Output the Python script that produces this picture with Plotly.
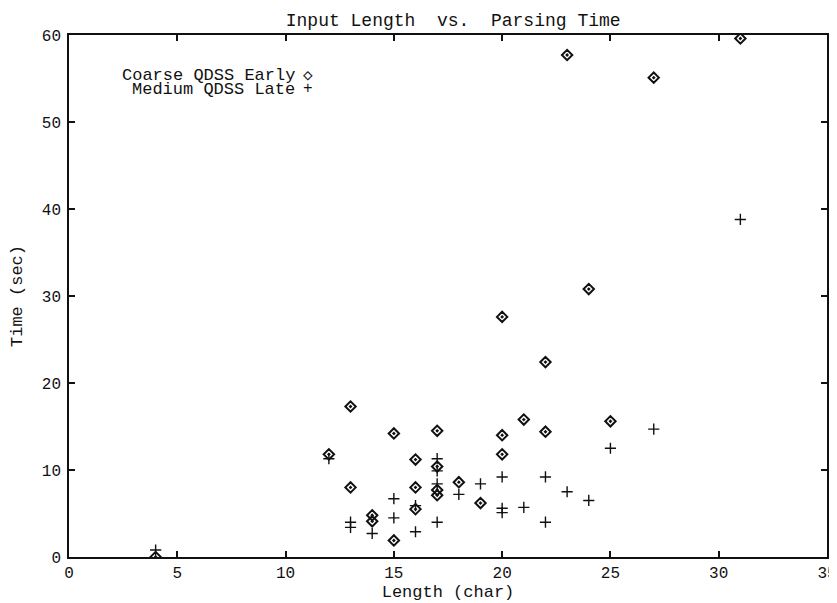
import plotly.graph_objects as go

# values
chart_title = "Input Length  vs.  Parsing Time"
x_label = "Length (char)"
y_label = "Time (sec)"

coarse_name = "Coarse QDSS Early"
coarse_len = [4, 12, 13, 13, 14, 14, 15, 15, 16, 16, 16, 17, 17, 17, 17,
              18, 19, 20, 20, 20, 21, 22, 22, 23, 24, 25, 27, 31]
coarse_time = [0.0, 11.8, 17.3, 8.0, 4.8, 4.1, 14.2, 1.9, 11.2, 8.0, 5.5, 14.5, 10.4, 7.7, 7.1,
               8.6, 6.2, 27.6, 14.0, 11.8, 15.8, 22.4, 14.4, 57.7, 30.8, 15.6, 55.1, 59.6]

medium_name = "Medium QDSS Late"
medium_len = [4, 12, 13, 13, 14, 15, 15, 16, 16, 17, 17, 17, 17,
              18, 19, 20, 20, 20, 21, 22, 22, 23, 24, 25, 27, 31]
medium_time = [0.8, 11.3, 4.0, 3.4, 2.7, 6.7, 4.5, 5.9, 2.9, 11.3, 9.9, 8.4, 4.0,
               7.2, 8.4, 9.2, 5.6, 5.1, 5.7, 9.2, 4.0, 7.5, 6.5, 12.5, 14.7, 38.8]

x_ticks = [0, 5, 10, 15, 20, 25, 30, 35]
y_ticks = [0, 10, 20, 30, 40, 50, 60]

MONO = "Liberation Mono, Courier New, monospace"
INK = "#111111"

fig = go.Figure()
fig.add_trace(go.Scatter(
    x=coarse_len, y=coarse_time, mode="markers", name=coarse_name,
    marker=dict(symbol="diamond-open-dot", size=8, color=INK, line=dict(width=2, color=INK)),
))
fig.add_trace(go.Scatter(
    x=medium_len, y=medium_time, mode="markers", name=medium_name,
    marker=dict(symbol="cross-thin-open", size=8, color=INK, line=dict(width=1.4, color=INK)),
))

axis_common = dict(
    showgrid=False, zeroline=False, showline=True, linecolor=INK, linewidth=1.5,
    mirror="ticks", ticks="inside", ticklen=6, tickwidth=1.5, tickcolor=INK,
    tickfont=dict(family=MONO, size=16, color=INK), automargin=False,
    ticklabeloverflow="allow",
)
fig.update_xaxes(range=[0, 35], tickvals=x_ticks, ticktext=[str(v) for v in x_ticks],
                 ticklabelstandoff=0,
                 title=dict(text=x_label, font=dict(family=MONO, size=17, color=INK), standoff=2),
                 **axis_common)
fig.update_yaxes(range=[0, 60], tickvals=y_ticks, ticktext=[str(v) for v in y_ticks],
                 ticklabelstandoff=3,
                 title=dict(text=y_label, font=dict(family=MONO, size=17, color=INK), standoff=15),
                 **axis_common)

# gnuplot-style key: right-justified text with the sample to its right
key_rows = [(coarse_name, "◇", 0.922), (medium_name, "+", 0.896)]
for label, glyph, ky in key_rows:
    fig.add_annotation(xref="x domain", yref="y domain", x=0.2995, y=ky, text=label,
                       showarrow=False, xanchor="right", yanchor="middle", borderpad=0,
                       font=dict(family=MONO, size=17, color=INK))
    fig.add_annotation(xref="x domain", yref="y domain", x=0.315, y=ky, text=glyph,
                       showarrow=False, xanchor="center", yanchor="middle", borderpad=0,
                       font=dict(family=MONO, size=16, color=INK))

# the page body adds an 8px margin, so the figure is 8px smaller on each axis
fig.update_layout(
    width=829, height=595,
    margin=dict(l=61, r=10, t=27, b=46),
    paper_bgcolor="white", plot_bgcolor="white",
    showlegend=False,
    title=dict(text=chart_title, x=0.537, xanchor="center", y=0.980, yanchor="middle",
               font=dict(family=MONO, size=18, color=INK)),
)

fig.write_html("out.html")
